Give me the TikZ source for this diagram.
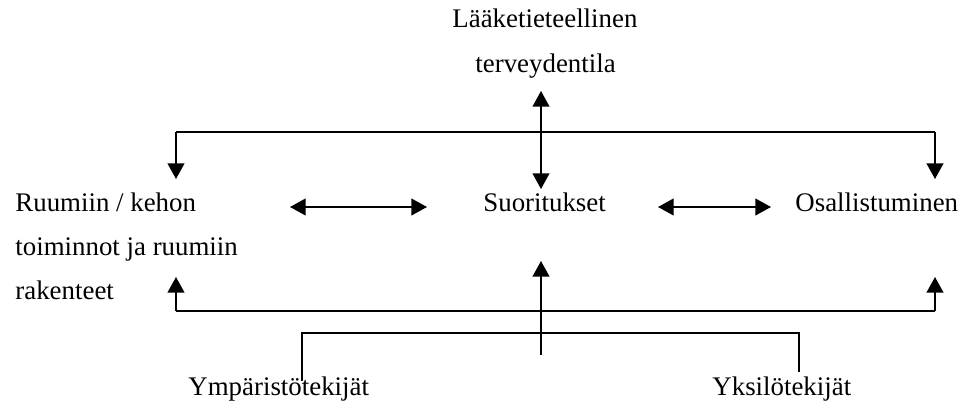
\documentclass[tikz,border=0pt]{standalone}
\usepackage{fontspec}
\setmainfont{Liberation Serif}
\usetikzlibrary{positioning,arrows.meta}

\begin{document}
\begin{tikzpicture}[x=0.0157cm,y=-0.0157cm,
	every node/.style={inner sep=0pt,anchor=base west,font=\fontsize{12}{14}\selectfont},
	pil/.style={-{Triangle[width=7.5pt,length=7pt]},thick},
	pil2/.style={{Triangle[width=7.5pt,length=7pt]}-{Triangle[width=7.5pt,length=7pt]},thick}]

\useasboundingbox (0,0) rectangle (963,403);

% texts
\node(lt1) at (452,27) {Lääketieteellinen};
\node(lt2) at (475,72) {terveydentila};
\node(rk1) at (15,212) {Ruumiin / kehon};
\node(rk2) at (15,256) {toiminnot ja ruumiin};
\node(rk3) at (15,300) {rakenteet};
\node(suor) at (483,212) {Suoritukset};
\node(osal) at (795,212) {Osallistuminen};
\node(ymp) at (188,395) {Ympäristötekijät};
\node(yks) at (712,395) {Yksilötekijät};

% line points
\coordinate(tl) at (176,132);
\coordinate(tr) at (935,132);
\coordinate(tla) at (176,179);
\coordinate(tra) at (935,179);
\coordinate(bl) at (176,311);
\coordinate(br) at (935,311);
\coordinate(bla) at (176,277);
\coordinate(bra) at (935,277);
\coordinate(mt) at (541,91);
\coordinate(mb) at (541,189);
\coordinate(ut) at (541,261);
\coordinate(ub) at (541,355);
\coordinate(kl) at (302,333);
\coordinate(kr) at (799,333);
\coordinate(kld) at (302,381);
\coordinate(krd) at (799,372);
\coordinate(h1) at (290,207);
\coordinate(h2) at (427,207);
\coordinate(h3) at (658,207);
\coordinate(h4) at (771,207);

\draw[thick](tl)--(tr);
\draw[thick](bl)--(br);
\foreach \x/\y in {tl/tla,tr/tra,bl/bla,br/bra,ub/ut}
	\draw[pil](\x)--(\y);
\foreach \x/\y in {mt/mb,h1/h2,h3/h4}
	\draw[pil2](\x)--(\y);
\draw[thick](kld)--(kl)--(kr)--(krd);

\end{tikzpicture}
\end{document}
